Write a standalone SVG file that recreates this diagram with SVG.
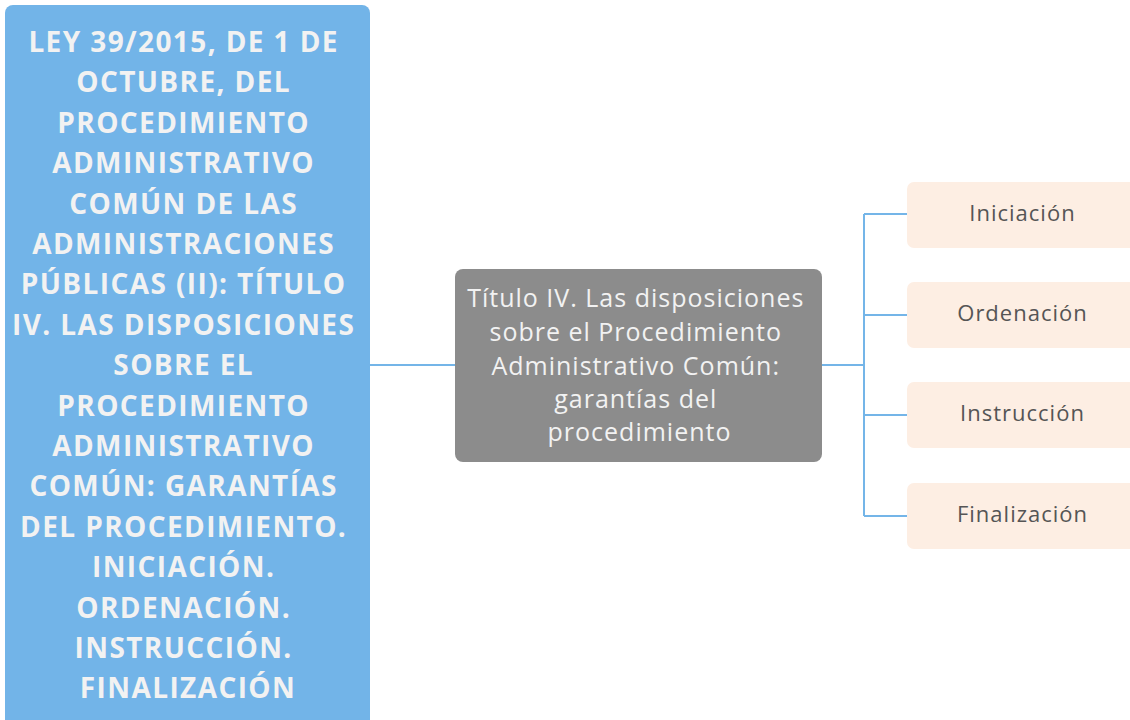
<svg xmlns="http://www.w3.org/2000/svg" width="1130" height="720" viewBox="0 0 1130 720">
<style>
.conn{stroke:#74b5e8;stroke-width:2;fill:none}
.root{fill:#72b4e8}
.mid{fill:#8c8c8c}
.leaf{fill:#fdeee3}
.rt{font-family:"Open Sans","Noto Sans",sans-serif;font-weight:bold;font-size:28px;letter-spacing:1.4px;fill:#f2f2f2;text-anchor:middle}
.mt{font-family:"Open Sans","Noto Sans",sans-serif;font-size:25px;letter-spacing:1px;fill:#f2f2f2;text-anchor:middle}
.lt{font-family:"Open Sans","Noto Sans",sans-serif;font-size:22px;letter-spacing:1px;fill:#555555;text-anchor:middle}
</style>
<rect width="1130" height="720" fill="#ffffff"/>
<g id="connectors">
<path class="conn" d="M370 365H455"/>
<path class="conn" d="M822 365H864"/>
<path class="conn" d="M864 214V516"/>
<path class="conn" d="M864 214H907M864 315H907M864 415H907M864 516H907"/>
</g>
<g id="root">
<rect class="root" x="5" y="5" width="365" height="725" rx="8"/>
<text class="rt">
<tspan x="188" y="52">LEY 39/2015, DE 1 DE</tspan>
<tspan x="188" y="92.4">OCTUBRE, DEL</tspan>
<tspan x="188" y="132.8">PROCEDIMIENTO</tspan>
<tspan x="188" y="173.2">ADMINISTRATIVO</tspan>
<tspan x="188" y="213.6">COMÚN DE LAS</tspan>
<tspan x="188" y="254">ADMINISTRACIONES</tspan>
<tspan x="188" y="294.4">PÚBLICAS (II): TÍTULO</tspan>
<tspan x="188" y="334.8">IV. LAS DISPOSICIONES</tspan>
<tspan x="188" y="375.2">SOBRE EL</tspan>
<tspan x="188" y="415.6">PROCEDIMIENTO</tspan>
<tspan x="188" y="456">ADMINISTRATIVO</tspan>
<tspan x="188" y="496.4">COMÚN: GARANTÍAS</tspan>
<tspan x="188" y="536.8">DEL PROCEDIMIENTO.</tspan>
<tspan x="188" y="577.2">INICIACIÓN.</tspan>
<tspan x="188" y="617.6">ORDENACIÓN.</tspan>
<tspan x="188" y="658">INSTRUCCIÓN.</tspan>
<tspan x="188" y="698.4">FINALIZACIÓN</tspan>
</text>
</g>
<g id="mid">
<rect class="mid" x="455" y="269" width="367" height="193" rx="8"/>
<text class="mt">
<tspan x="639.5" y="307">Título IV. Las disposiciones</tspan>
<tspan x="639.5" y="341">sobre el Procedimiento</tspan>
<tspan x="639.5" y="375">Administrativo Común:</tspan>
<tspan x="639.5" y="408">garantías del</tspan>
<tspan x="639.5" y="441">procedimiento</tspan>
</text>
</g>
<g id="iniciacion">
<rect class="leaf" x="907" y="182" width="240" height="66" rx="7"/>
<text class="lt" x="1022.5" y="221">Iniciación</text>
</g>
<g id="ordenacion">
<rect class="leaf" x="907" y="282" width="240" height="66" rx="7"/>
<text class="lt" x="1022.5" y="321">Ordenación</text>
</g>
<g id="instruccion">
<rect class="leaf" x="907" y="382" width="240" height="66" rx="7"/>
<text class="lt" x="1022.5" y="421">Instrucción</text>
</g>
<g id="finalizacion">
<rect class="leaf" x="907" y="483" width="240" height="66" rx="7"/>
<text class="lt" x="1022.5" y="522">Finalización</text>
</g>
</svg>
